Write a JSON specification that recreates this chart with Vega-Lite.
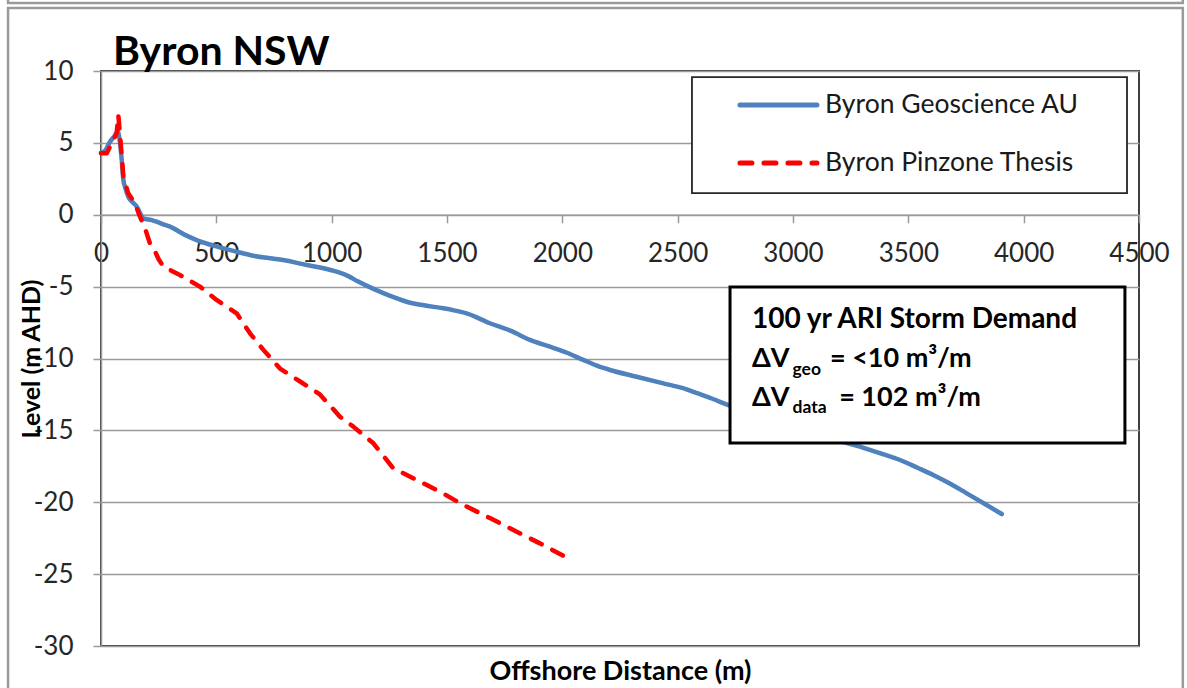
{
  "$schema": "https://vega.github.io/schema/vega-lite/v6.json",
  "width": 1038,
  "height": 575,
  "autosize": {"type": "none"},
  "padding": {"left": 101, "top": 71, "right": 48, "bottom": 42},
  "background": "white",
  "config": {"view": {"stroke": "#404040", "strokeWidth": 2}, "font": "Lato"},
  "datasets": {
    "profiles": [
      {"series": "Byron Geoscience AU", "x": 0, "y": 4.3},
      {"series": "Byron Geoscience AU", "x": 20, "y": 4.5},
      {"series": "Byron Geoscience AU", "x": 39, "y": 5.08},
      {"series": "Byron Geoscience AU", "x": 60, "y": 5.5},
      {"series": "Byron Geoscience AU", "x": 72, "y": 5.8},
      {"series": "Byron Geoscience AU", "x": 80, "y": 5.3},
      {"series": "Byron Geoscience AU", "x": 90, "y": 3.8},
      {"series": "Byron Geoscience AU", "x": 97, "y": 2.42},
      {"series": "Byron Geoscience AU", "x": 105, "y": 1.9},
      {"series": "Byron Geoscience AU", "x": 118, "y": 1.26},
      {"series": "Byron Geoscience AU", "x": 135, "y": 0.9},
      {"series": "Byron Geoscience AU", "x": 155, "y": 0.56},
      {"series": "Byron Geoscience AU", "x": 170, "y": 0.1},
      {"series": "Byron Geoscience AU", "x": 183, "y": -0.25},
      {"series": "Byron Geoscience AU", "x": 220, "y": -0.37},
      {"series": "Byron Geoscience AU", "x": 241, "y": -0.48},
      {"series": "Byron Geoscience AU", "x": 277, "y": -0.71},
      {"series": "Byron Geoscience AU", "x": 299, "y": -0.83},
      {"series": "Byron Geoscience AU", "x": 364, "y": -1.4},
      {"series": "Byron Geoscience AU", "x": 415, "y": -1.76},
      {"series": "Byron Geoscience AU", "x": 500, "y": -2.2},
      {"series": "Byron Geoscience AU", "x": 588, "y": -2.57},
      {"series": "Byron Geoscience AU", "x": 660, "y": -2.85},
      {"series": "Byron Geoscience AU", "x": 733, "y": -3.03},
      {"series": "Byron Geoscience AU", "x": 790, "y": -3.15},
      {"series": "Byron Geoscience AU", "x": 892, "y": -3.5},
      {"series": "Byron Geoscience AU", "x": 960, "y": -3.7},
      {"series": "Byron Geoscience AU", "x": 1022, "y": -3.96},
      {"series": "Byron Geoscience AU", "x": 1070, "y": -4.25},
      {"series": "Byron Geoscience AU", "x": 1115, "y": -4.65},
      {"series": "Byron Geoscience AU", "x": 1160, "y": -5.0},
      {"series": "Byron Geoscience AU", "x": 1224, "y": -5.45},
      {"series": "Byron Geoscience AU", "x": 1280, "y": -5.8},
      {"series": "Byron Geoscience AU", "x": 1325, "y": -6.05},
      {"series": "Byron Geoscience AU", "x": 1400, "y": -6.3},
      {"series": "Byron Geoscience AU", "x": 1484, "y": -6.51},
      {"series": "Byron Geoscience AU", "x": 1530, "y": -6.65},
      {"series": "Byron Geoscience AU", "x": 1585, "y": -6.86},
      {"series": "Byron Geoscience AU", "x": 1686, "y": -7.55},
      {"series": "Byron Geoscience AU", "x": 1780, "y": -8.1},
      {"series": "Byron Geoscience AU", "x": 1860, "y": -8.71},
      {"series": "Byron Geoscience AU", "x": 1946, "y": -9.18},
      {"series": "Byron Geoscience AU", "x": 2020, "y": -9.6},
      {"series": "Byron Geoscience AU", "x": 2091, "y": -10.1},
      {"series": "Byron Geoscience AU", "x": 2150, "y": -10.5},
      {"series": "Byron Geoscience AU", "x": 2207, "y": -10.8},
      {"series": "Byron Geoscience AU", "x": 2322, "y": -11.27},
      {"series": "Byron Geoscience AU", "x": 2438, "y": -11.73},
      {"series": "Byron Geoscience AU", "x": 2520, "y": -12.05},
      {"series": "Byron Geoscience AU", "x": 2582, "y": -12.4},
      {"series": "Byron Geoscience AU", "x": 2650, "y": -12.8},
      {"series": "Byron Geoscience AU", "x": 2720, "y": -13.25},
      {"series": "Byron Geoscience AU", "x": 2850, "y": -14.0},
      {"series": "Byron Geoscience AU", "x": 3000, "y": -14.8},
      {"series": "Byron Geoscience AU", "x": 3150, "y": -15.5},
      {"series": "Byron Geoscience AU", "x": 3290, "y": -16.13},
      {"series": "Byron Geoscience AU", "x": 3380, "y": -16.6},
      {"series": "Byron Geoscience AU", "x": 3464, "y": -17.06},
      {"series": "Byron Geoscience AU", "x": 3540, "y": -17.6},
      {"series": "Byron Geoscience AU", "x": 3608, "y": -18.1},
      {"series": "Byron Geoscience AU", "x": 3680, "y": -18.7},
      {"series": "Byron Geoscience AU", "x": 3753, "y": -19.38},
      {"series": "Byron Geoscience AU", "x": 3830, "y": -20.1},
      {"series": "Byron Geoscience AU", "x": 3905, "y": -20.82},
      {"series": "Byron Pinzone Thesis", "x": 0, "y": 4.27},
      {"series": "Byron Pinzone Thesis", "x": 25, "y": 4.27},
      {"series": "Byron Pinzone Thesis", "x": 46, "y": 4.97},
      {"series": "Byron Pinzone Thesis", "x": 68, "y": 5.67},
      {"series": "Byron Pinzone Thesis", "x": 75, "y": 6.94},
      {"series": "Byron Pinzone Thesis", "x": 82, "y": 5.67},
      {"series": "Byron Pinzone Thesis", "x": 90, "y": 4.04},
      {"series": "Byron Pinzone Thesis", "x": 97, "y": 2.65},
      {"series": "Byron Pinzone Thesis", "x": 118, "y": 1.49},
      {"series": "Byron Pinzone Thesis", "x": 147, "y": 0.8},
      {"series": "Byron Pinzone Thesis", "x": 169, "y": -0.13},
      {"series": "Byron Pinzone Thesis", "x": 190, "y": -0.9},
      {"series": "Byron Pinzone Thesis", "x": 212, "y": -1.99},
      {"series": "Byron Pinzone Thesis", "x": 227, "y": -2.3},
      {"series": "Byron Pinzone Thesis", "x": 250, "y": -3.1},
      {"series": "Byron Pinzone Thesis", "x": 270, "y": -3.6},
      {"series": "Byron Pinzone Thesis", "x": 342, "y": -4.19},
      {"series": "Byron Pinzone Thesis", "x": 429, "y": -5.0},
      {"series": "Byron Pinzone Thesis", "x": 501, "y": -5.93},
      {"series": "Byron Pinzone Thesis", "x": 588, "y": -6.86},
      {"series": "Byron Pinzone Thesis", "x": 646, "y": -8.25},
      {"series": "Byron Pinzone Thesis", "x": 704, "y": -9.4},
      {"series": "Byron Pinzone Thesis", "x": 776, "y": -10.7},
      {"series": "Byron Pinzone Thesis", "x": 863, "y": -11.6},
      {"series": "Byron Pinzone Thesis", "x": 949, "y": -12.5},
      {"series": "Byron Pinzone Thesis", "x": 1000, "y": -13.4},
      {"series": "Byron Pinzone Thesis", "x": 1036, "y": -14.05},
      {"series": "Byron Pinzone Thesis", "x": 1094, "y": -14.74},
      {"series": "Byron Pinzone Thesis", "x": 1181, "y": -15.9},
      {"series": "Byron Pinzone Thesis", "x": 1267, "y": -17.64},
      {"series": "Byron Pinzone Thesis", "x": 1369, "y": -18.45},
      {"series": "Byron Pinzone Thesis", "x": 1470, "y": -19.27},
      {"series": "Byron Pinzone Thesis", "x": 1571, "y": -20.19},
      {"series": "Byron Pinzone Thesis", "x": 1686, "y": -21.1},
      {"series": "Byron Pinzone Thesis", "x": 1802, "y": -22.05},
      {"series": "Byron Pinzone Thesis", "x": 1903, "y": -22.86},
      {"series": "Byron Pinzone Thesis", "x": 2033, "y": -23.97}
    ]
  },
  "data": {"name": "profiles"},
  "layer": [
    {
      "transform": [{"filter": "datum.series === 'Byron Geoscience AU'"}],
      "mark": {"type": "line", "color": "#4F81BD", "strokeWidth": 4.5, "strokeCap": "round", "strokeJoin": "round", "interpolate": "monotone"},
      "encoding": {
        "x": {
          "field": "x", "type": "quantitative",
          "scale": {"domain": [0, 4500], "nice": false, "zero": false},
          "axis": {
            "values": [0, 500, 1000, 1500, 2000, 2500, 3000, 3500, 4000, 4500],
            "labelExpr": "'' + datum.value",
            "grid": false, "offset": -431.25, "zindex": 0,
            "domainColor": "#9a9a9a", "domainWidth": 1.5,
            "tickColor": "#9a9a9a", "tickWidth": 1.5, "tickSize": 8,
            "labelFont": "Lato", "labelFontSize": 26, "labelColor": "#262626", "labelPadding": 18,
            "labelFlush": false, "labelOverlap": false,
            "title": "Offshore Distance (m)", "titleFont": "Lato", "titleFontSize": 27, "titleFontWeight": "bold", "titleColor": "#000000",
            "titleY": 465, "titleBaseline": "alphabetic"
          }
        },
        "y": {
          "field": "y", "type": "quantitative",
          "scale": {"domain": [-30, 10], "nice": false, "zero": false},
          "axis": {
            "values": [-30, -25, -20, -15, -10, -5, 0, 5, 10],
            "labelExpr": "'' + datum.value",
            "grid": true, "gridColor": "#9a9a9a", "gridWidth": 1.5, "zindex": 0,
            "domainColor": "#9a9a9a", "domainWidth": 1.5,
            "tickColor": "#9a9a9a", "tickWidth": 1.5, "tickSize": 8,
            "labelFont": "Lato", "labelFontSize": 26, "labelColor": "#262626", "labelPadding": 20,
            "labelFlush": false, "labelOverlap": false,
            "title": "Level (m AHD)", "titleFont": "Lato", "titleFontSize": 25, "titleFontWeight": "bold", "titleColor": "#000000",
            "titleX": -70, "titleY": 287.5, "titleBaseline": "middle", "titleAngle": -90, "titleAlign": "center"
          }
        }
      }
    },
    {
      "transform": [{"filter": "datum.series === 'Byron Pinzone Thesis'"}],
      "mark": {"type": "line", "color": "#FF0000", "strokeWidth": 4.5, "strokeCap": "round", "strokeJoin": "round", "strokeDash": [12, 12]},
      "encoding": {
        "x": {"field": "x", "type": "quantitative"},
        "y": {"field": "y", "type": "quantitative"}
      }
    },
    {
      "data": {"values": [{}]},
      "mark": {"type": "rect", "fill": "white", "stroke": "#262626", "strokeWidth": 1.8},
      "encoding": {
        "x": {"datum": 2562, "type": "quantitative"}, "x2": {"datum": 4448},
        "y": {"datum": 9.58, "type": "quantitative"}, "y2": {"datum": 1.51}
      }
    },
    {
      "data": {"values": [{}]},
      "mark": {"type": "rule", "color": "#4F81BD", "strokeWidth": 5, "strokeCap": "round"},
      "encoding": {
        "x": {"datum": 2770, "type": "quantitative"}, "x2": {"datum": 3104},
        "y": {"datum": 7.63, "type": "quantitative"}
      }
    },
    {
      "data": {"values": [{}]},
      "mark": {"type": "rule", "color": "#FF0000", "strokeWidth": 5, "strokeCap": "round", "strokeDash": [12, 12]},
      "encoding": {
        "x": {"datum": 2770, "type": "quantitative"}, "x2": {"datum": 3104},
        "y": {"datum": 3.6, "type": "quantitative"}
      }
    },
    {
      "data": {"values": [{}]},
      "mark": {"type": "text", "text": "Byron Geoscience AU", "font": "Lato", "fontSize": 26.5, "color": "#1a1a1a", "align": "left", "baseline": "middle"},
      "encoding": {"x": {"datum": 3139, "type": "quantitative"}, "y": {"datum": 7.63, "type": "quantitative"}}
    },
    {
      "data": {"values": [{}]},
      "mark": {"type": "text", "text": "Byron Pinzone Thesis", "font": "Lato", "fontSize": 26.5, "color": "#1a1a1a", "align": "left", "baseline": "middle"},
      "encoding": {"x": {"datum": 3139, "type": "quantitative"}, "y": {"datum": 3.6, "type": "quantitative"}}
    },
    {
      "data": {"values": [{}]},
      "mark": {"type": "rect", "fill": "white", "stroke": "#000000", "strokeWidth": 3},
      "encoding": {
        "x": {"datum": 2727, "type": "quantitative"}, "x2": {"datum": 4439},
        "y": {"datum": -5.03, "type": "quantitative"}, "y2": {"datum": -15.88}
      }
    },
    {
      "data": {"values": [{}]},
      "mark": {"type": "text", "text": "100 yr ARI Storm Demand", "font": "Lato", "fontSize": 28, "fontWeight": "bold", "color": "#000000", "align": "left", "baseline": "alphabetic"},
      "encoding": {"x": {"datum": 2822, "type": "quantitative"}, "y": {"datum": -7.88, "type": "quantitative"}}
    },
    {
      "data": {"values": [{}]},
      "mark": {"type": "text", "text": "ΔV", "font": "Lato", "fontSize": 27, "fontWeight": "bold", "color": "#000000", "align": "left", "baseline": "alphabetic"},
      "encoding": {"x": {"datum": 2822, "type": "quantitative"}, "y": {"datum": -10.59, "type": "quantitative"}}
    },
    {
      "data": {"values": [{}]},
      "mark": {"type": "text", "text": "geo", "font": "Lato", "fontSize": 17.5, "fontWeight": "bold", "color": "#000000", "align": "left", "baseline": "alphabetic"},
      "encoding": {"x": {"datum": 2998, "type": "quantitative"}, "y": {"datum": -11.15, "type": "quantitative"}}
    },
    {
      "data": {"values": [{}]},
      "mark": {"type": "text", "text": "= <10 m³/m", "font": "Lato", "fontSize": 27, "fontWeight": "bold", "color": "#000000", "align": "left", "baseline": "alphabetic"},
      "encoding": {"x": {"datum": 3160, "type": "quantitative"}, "y": {"datum": -10.59, "type": "quantitative"}}
    },
    {
      "data": {"values": [{}]},
      "mark": {"type": "text", "text": "ΔV", "font": "Lato", "fontSize": 27, "fontWeight": "bold", "color": "#000000", "align": "left", "baseline": "alphabetic"},
      "encoding": {"x": {"datum": 2822, "type": "quantitative"}, "y": {"datum": -13.3, "type": "quantitative"}}
    },
    {
      "data": {"values": [{}]},
      "mark": {"type": "text", "text": "data", "font": "Lato", "fontSize": 17.5, "fontWeight": "bold", "color": "#000000", "align": "left", "baseline": "alphabetic"},
      "encoding": {"x": {"datum": 2998, "type": "quantitative"}, "y": {"datum": -13.79, "type": "quantitative"}}
    },
    {
      "data": {"values": [{}]},
      "mark": {"type": "text", "text": "= 102 m³/m", "font": "Lato", "fontSize": 27, "fontWeight": "bold", "color": "#000000", "align": "left", "baseline": "alphabetic"},
      "encoding": {"x": {"datum": 3200, "type": "quantitative"}, "y": {"datum": -13.3, "type": "quantitative"}}
    },
    {
      "data": {"values": [{}]},
      "mark": {"type": "text", "text": "Byron NSW", "font": "Lato", "fontSize": 41, "fontWeight": "bold", "color": "#000000", "align": "left", "baseline": "alphabetic", "clip": false},
      "encoding": {"x": {"datum": 52, "type": "quantitative"}, "y": {"datum": 10.42, "type": "quantitative"}}
    },
    {
      "data": {"values": [{}]},
      "mark": {"type": "rect", "fill": "white", "fillOpacity": 0, "stroke": "#9a9a9a", "strokeWidth": 2.5, "clip": false},
      "encoding": {
        "x": {"datum": -403, "type": "quantitative"}, "x2": {"datum": 4690},
        "y": {"datum": 14.38, "type": "quantitative"}, "y2": {"datum": -40}
      }
    },
    {
      "data": {"values": [{}]},
      "mark": {"type": "rect", "fill": "white", "fillOpacity": 0, "stroke": "#9a9a9a", "strokeWidth": 2.5, "clip": false},
      "encoding": {
        "x": {"datum": -403, "type": "quantitative"}, "x2": {"datum": 4690},
        "y": {"datum": 16.5, "type": "quantitative"}, "y2": {"datum": 14.73}
      }
    }
  ]
}
